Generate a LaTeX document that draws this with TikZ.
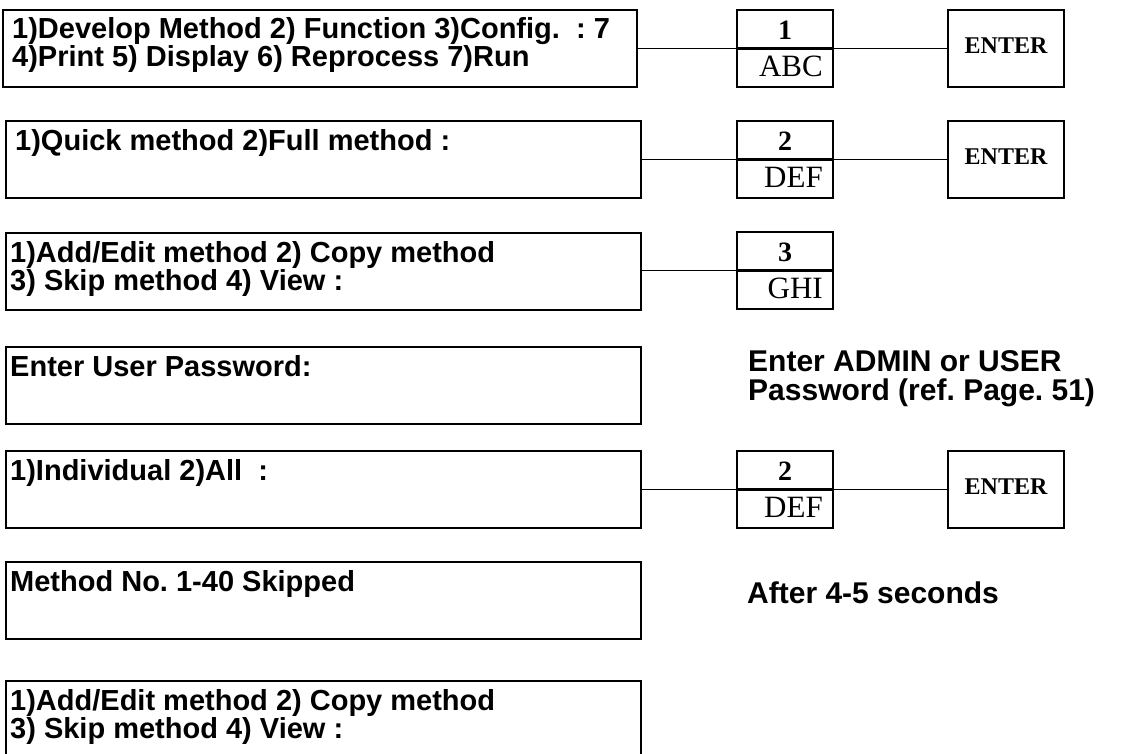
\documentclass[tikz,border=0pt]{standalone}
\usepackage{fontspec}
\setmainfont{Liberation Sans}
\newfontfamily\tnr{Liberation Serif}
\frenchspacing
\begin{document}
\begin{tikzpicture}[x=1pt,y=-1pt,
  scr/.style={draw, line width=2.6pt, minimum width=635pt, minimum height=77pt, anchor=north west, inner sep=0pt, outer sep=0pt},
  scrtext/.style={anchor=north west, align=left, inner sep=0pt, font=\fontsize{29}{25}\selectfont\bfseries},
  keybox/.style={draw, line width=2.4pt, minimum width=96pt, minimum height=77pt, anchor=north west, inner sep=0pt, outer sep=0pt},
  keynum/.style={font=\tnr\fontsize{28}{28}\selectfont\bfseries, inner sep=0pt},
  keylet/.style={font=\tnr\fontsize{31}{31}\selectfont, inner sep=0pt, anchor=east},
  enterbox/.style={draw, line width=2.4pt, minimum width=116pt, minimum height=77pt, anchor=north west, inner sep=0pt, outer sep=0pt},
  entertext/.style={font=\tnr\fontsize{24}{24}\selectfont\bfseries, inner sep=0pt},
  conn/.style={line width=1.6pt},
  note/.style={anchor=north west, align=left, inner sep=0pt, font=\fontsize{30}{29}\selectfont\bfseries}]
\useasboundingbox (0,0) rectangle (1123,753);
% screens
\node[scr, minimum width=634pt] (s1) at (3,10) {};
\node[scrtext] (t1) at (12,17) {1)Develop Method 2) Function 3)Config.\ \ : 7\\4)Print 5) Display 6) Reprocess 7)Run};
\node[scr] (s2) at (6,121) {};
\node[scrtext] (t2) at (15,129) {1)Quick method 2)Full method :};
\node[scr] (s3) at (6,233) {};
\node[scrtext] (t3) at (10,241) {1)Add/Edit method 2) Copy method\\3) Skip method 4) View :};
\node[scr] (s4) at (6,347) {};
\node[scrtext] (t4) at (10,355) {Enter User Password:};
\node[scr] (s5) at (6,451) {};
\node[scrtext] (t5) at (10,459) {1)Individual 2)All\ \ :};
\node[scr] (s6) at (6,562) {};
\node[scrtext] (t6) at (10,570) {Method No. 1-40 Skipped};
\node[scr, minimum height=90pt] (s7) at (6,681) {};
\node[scrtext] (t7) at (10,689) {1)Add/Edit method 2) Copy method\\3) Skip method 4) View :};
% keys
\node[keybox] (k1) at (737,10) {};
\draw[line width=2.4pt] (k1.west) -- (k1.east);
\node[keynum] (k1n) at ([yshift=-20pt]k1.north) {1};
\node[keylet] (k1l) at ([xshift=-10pt,yshift=-56pt]k1.north east) {ABC};
\node[enterbox] (e1) at (948,10) {};
\node[entertext] (e1t) at ([yshift=3pt]e1.center) {ENTER};
\node[keybox] (k2) at (737,121) {};
\draw[line width=2.4pt] (k2.west) -- (k2.east);
\node[keynum] (k2n) at ([yshift=-20pt]k2.north) {2};
\node[keylet] (k2l) at ([xshift=-10pt,yshift=-56pt]k2.north east) {DEF};
\node[enterbox] (e2) at (948,121) {};
\node[entertext] (e2t) at ([yshift=3pt]e2.center) {ENTER};
\node[keybox] (k3) at (737,232) {};
\draw[line width=2.4pt] (k3.west) -- (k3.east);
\node[keynum] (k3n) at ([yshift=-20pt]k3.north) {3};
\node[keylet] (k3l) at ([xshift=-10pt,yshift=-56pt]k3.north east) {GHI};
\node[keybox] (k5) at (737,451) {};
\draw[line width=2.4pt] (k5.west) -- (k5.east);
\node[keynum] (k5n) at ([yshift=-20pt]k5.north) {2};
\node[keylet] (k5l) at ([xshift=-10pt,yshift=-56pt]k5.north east) {DEF};
\node[enterbox] (e5) at (948,451) {};
\node[entertext] (e5t) at ([yshift=3pt]e5.center) {ENTER};
% connectors
\draw[conn] (s1.east) -- (k1.west);
\draw[conn] (k1.east) -- (e1.west);
\draw[conn] (s2.east) -- (k2.west);
\draw[conn] (k2.east) -- (e2.west);
\draw[conn] (s3.east |- k3.west) -- (k3.west);
\draw[conn] (s5.east) -- (k5.west);
\draw[conn] (k5.east) -- (e5.west);
% notes
\node[note] (n1) at (748,350) {Enter ADMIN or USER\\Password (ref. Page. 51)};
\node[note] (n2) at (747,582) {After 4-5 seconds};
\end{tikzpicture}
\end{document}
